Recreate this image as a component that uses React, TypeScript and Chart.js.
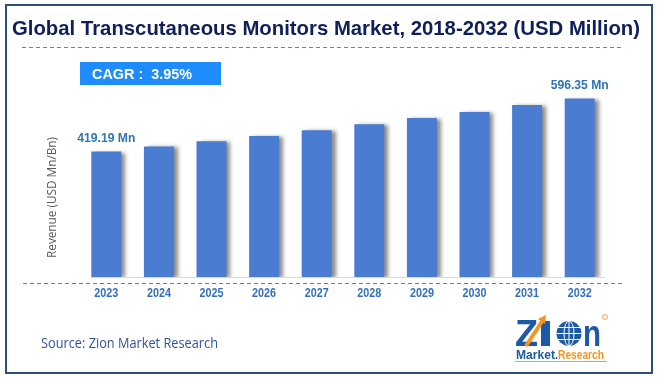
import React, { useEffect, useRef } from "react";
import { Chart, registerables } from "chart.js";

Chart.register(...registerables);

const years = ["2023", "2024", "2025", "2026", "2027", "2028", "2029", "2030", "2031", "2032"];
const revenue = [419.19, 436.5, 454.0, 471.5, 490.5, 510.5, 531.0, 551.5, 575.0, 596.35];
const labeledIndexes = [0, 9];
const valueLabels = ["419.19 Mn", "", "", "", "", "", "", "", "", "596.35 Mn"];
const titleText = "Global Transcutaneous Monitors Market, 2018-2032 (USD Million)";
const cagrText = "CAGR :  3.95%";
const yAxisTitle = "Revenue (USD Mn/Bn)";
const sourceText = "Source: Zion Market Research";

const SANS = "'Liberation Sans', Arial, sans-serif";

function fitText(ctx: CanvasRenderingContext2D, text: string, left: number, baseline: number, width: number) {
  const w = ctx.measureText(text).width;
  const s = w > 0 ? width / w : 1;
  ctx.save();
  ctx.translate(left, baseline);
  ctx.scale(s, 1);
  ctx.textAlign = "left";
  ctx.textBaseline = "alphabetic";
  ctx.fillText(text, 0, 0);
  ctx.restore();
}

function dashedLine(ctx: CanvasRenderingContext2D, x1: number, x2: number, y: number) {
  ctx.save();
  ctx.strokeStyle = "#4F86D6";
  ctx.lineWidth = 1.2;
  ctx.setLineDash([4, 3]);
  ctx.beginPath();
  ctx.moveTo(x1, y + 0.5);
  ctx.lineTo(x2, y + 0.5);
  ctx.stroke();
  ctx.restore();
}

const decorPlugin = {
  id: "decor",
  beforeDraw(chart: any) {
    const ctx: CanvasRenderingContext2D = chart.ctx;
    ctx.save();
    ctx.fillStyle = "#FFFFFF";
    ctx.fillRect(0, 0, chart.width, chart.height);
    // border
    ctx.strokeStyle = "#2B4F7A";
    ctx.lineWidth = 2;
    ctx.strokeRect(6, 5, 646, 368);
    // title
    ctx.fillStyle = "#0E1F5B";
    ctx.font = "bold 21px " + SANS;
    fitText(ctx, titleText, 12, 35, 628);
    dashedLine(ctx, 22, 621, 47);
    // CAGR box
    ctx.fillStyle = "#1E8CFF";
    ctx.fillRect(80, 62, 141, 23);
    ctx.fillStyle = "#FFFFFF";
    ctx.font = "bold 15px " + SANS;
    fitText(ctx, cagrText, 92, 79, 100);
    // y axis title
    ctx.save();
    ctx.translate(56, 197.5);
    ctx.rotate(-Math.PI / 2);
    ctx.fillStyle = "#595959";
    ctx.font = "12px 'Open Sans'";
    fitText(ctx, yAxisTitle, -60.5, 0, 121);
    ctx.restore();
    // source
    ctx.fillStyle = "#2F5597";
    ctx.font = "14px 'Open Sans'";
    fitText(ctx, sourceText, 41, 348, 177);
    // logo
    drawLogo(ctx);
    // axis line
    const area = chart.chartArea;
    ctx.strokeStyle = "#D9D9D9";
    ctx.lineWidth = 1;
    ctx.beginPath();
    ctx.moveTo(91, area.bottom + 0.5);
    ctx.lineTo(605, area.bottom + 0.5);
    ctx.stroke();
    dashedLine(ctx, 23, 623, 283);
    ctx.restore();
  },
  beforeDatasetDraw(chart: any) {
    const ctx = chart.ctx;
    ctx.save();
    ctx.shadowColor = "rgba(0,0,0,0.45)";
    ctx.shadowOffsetX = 4;
    ctx.shadowOffsetY = 1;
    ctx.shadowBlur = 4;
  },
  afterDatasetDraw(chart: any) {
    chart.ctx.restore();
  },
  afterDatasetsDraw(chart: any) {
    const ctx: CanvasRenderingContext2D = chart.ctx;
    const meta = chart.getDatasetMeta(0);
    const xs = chart.scales.x;
    const ys = chart.scales.y;
    ctx.save();
    // value labels
    ctx.fillStyle = "#2E75B6";
    ctx.font = "bold 13px " + SANS;
    labeledIndexes.forEach((i) => {
      const bar = meta.data[i];
      const top = ys.getPixelForValue(revenue[i]);
      fitText(ctx, valueLabels[i], bar.x - 29, top - 9.5, 58);
    });
    // x tick labels
    ctx.fillStyle = "#3370C0";
    ctx.font = "bold 13px " + SANS;
    years.forEach((y, i) => {
      const x = xs.getPixelForValue(i);
      fitText(ctx, y, x - 12, 297, 24);
    });
    ctx.restore();
  },
};

function drawLogo(ctx: CanvasRenderingContext2D) {
  ctx.save();
  const blue = "#1C5AA6";
  const orange = "#F7931E";
  ctx.fillStyle = blue;
  ctx.font = "bold 36px " + SANS;
  fitText(ctx, "Z", 515, 346, 23);
  // I
  ctx.fillRect(541, 321, 9, 25);
  // orange arrow
  ctx.strokeStyle = orange;
  ctx.lineWidth = 4;
  ctx.beginPath();
  ctx.moveTo(526, 346);
  ctx.lineTo(543, 320);
  ctx.stroke();
  ctx.fillStyle = orange;
  ctx.beginPath();
  ctx.moveTo(546, 315);
  ctx.lineTo(538, 319);
  ctx.lineTo(545, 324);
  ctx.closePath();
  ctx.fill();
  // globe
  ctx.fillStyle = blue;
  ctx.beginPath();
  ctx.arc(569, 333.5, 12.5, 0, Math.PI * 2);
  ctx.fill();
  ctx.strokeStyle = "#FFFFFF";
  ctx.lineWidth = 1;
  ctx.beginPath();
  ctx.ellipse(569, 333.5, 5, 12.5, 0, 0, Math.PI * 2);
  ctx.moveTo(556.5, 333.5);
  ctx.lineTo(581.5, 333.5);
  ctx.moveTo(558, 327.5);
  ctx.lineTo(580, 327.5);
  ctx.moveTo(558, 339.5);
  ctx.lineTo(580, 339.5);
  ctx.moveTo(569, 321);
  ctx.lineTo(569, 346);
  ctx.stroke();
  // n
  ctx.fillStyle = blue;
  ctx.font = "bold 36px " + SANS;
  fitText(ctx, "n", 583, 346, 18);
  // registered
  ctx.strokeStyle = orange;
  ctx.lineWidth = 0.8;
  ctx.beginPath();
  ctx.arc(605, 317, 2.5, 0, Math.PI * 2);
  ctx.stroke();
  // Market.Research
  ctx.font = "bold 12px " + SANS;
  ctx.fillStyle = blue;
  fitText(ctx, "Market", 516, 359, 39);
  fitText(ctx, ".", 555, 359, 3);
  ctx.fillStyle = orange;
  fitText(ctx, "Research", 558, 359, 46);
  ctx.strokeStyle = "#8FB3DE";
  ctx.lineWidth = 1;
  ctx.beginPath();
  ctx.moveTo(515, 361.5);
  ctx.lineTo(607, 361.5);
  ctx.stroke();
  ctx.restore();
}

export default function App() {
  const ref = useRef<HTMLCanvasElement | null>(null);
  useEffect(() => {
    if (!ref.current) return;
    const chart = new Chart(ref.current, {
      type: "bar",
      data: {
        labels: years,
        datasets: [
          {
            data: revenue,
            backgroundColor: "#4A7CD2",
            borderWidth: 0,
            barPercentage: 0.57,
            categoryPercentage: 1,
          },
        ],
      },
      options: {
        responsive: false,
        animation: false,
        devicePixelRatio: 1,
        layout: { padding: { left: 80, right: 52, top: 90, bottom: 105 } },
        plugins: { legend: { display: false }, tooltip: { enabled: false }, title: { display: false } },
        scales: {
          x: { display: false },
          y: { display: false, min: 0, max: 625 },
        },
      },
      plugins: [decorPlugin],
    });
    return () => chart.destroy();
  }, []);
  return (
    <div style={{ position: "absolute", left: 0, top: 0, width: 658, height: 382 }}>
      <canvas ref={ref} width={658} height={382} />
    </div>
  );
}
